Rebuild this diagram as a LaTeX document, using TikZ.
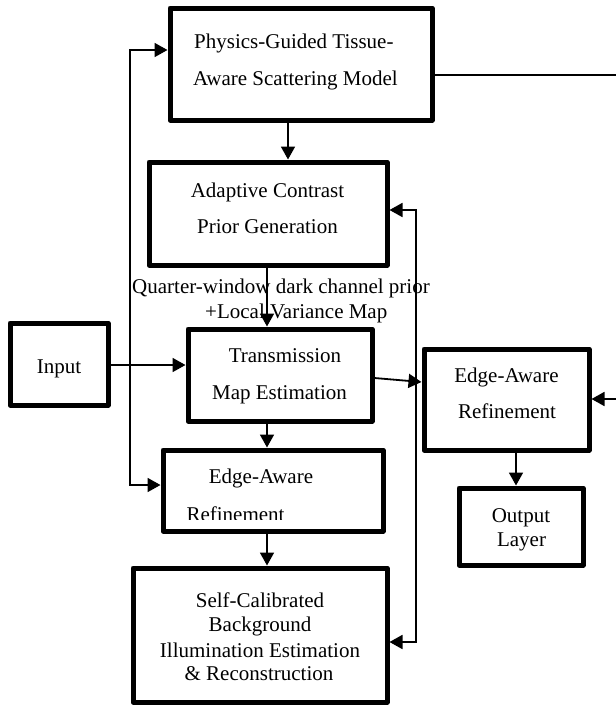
\documentclass[tikz,border=0pt]{standalone}
\usepackage{fontspec}
\setmainfont{Liberation Serif}
\usetikzlibrary{arrows.meta}
\begin{document}
\begin{tikzpicture}[x=1pt,y=-1pt,
  box/.style={draw,line width=5pt,line join=round,inner sep=0pt},
  txt/.style={inner sep=0pt,font=\fontsize{21}{25}\selectfont},
  conn/.style={line width=1.8pt},
  tip/.style={-{Triangle[length=13pt,width=14pt]}},
  tips/.style={{Triangle[length=13pt,width=14pt]}-{Triangle[length=13pt,width=14pt]}},
]
\useasboundingbox (0,0) rectangle (616,705);

% boxes
\node[box,minimum width=262,minimum height=112] (phys) at (301,64) {};
\node[box,minimum width=238,minimum height=103] (adapt) at (268,213.5) {};
\node[box,minimum width=98,minimum height=82] (input) at (59,364) {};
\node[box,minimum width=184,minimum height=92] (trans) at (280,375) {};
\node[box,minimum width=165,minimum height=101] (er) at (506.5,399.5) {};
\node[box,minimum width=124,minimum height=77] (out) at (521,526.5) {};
\node[box,minimum width=220,minimum height=81] (el) at (273,490.5) {};
\node[box,minimum width=254,minimum height=134] (self) at (260,635) {};

% texts
\node[txt,anchor=base west] (phys-1) at (194,48) {Physics-Guided Tissue-};
\node[txt,anchor=base west] (phys-2) at (193,85) {Aware Scattering Model};
\node[txt,anchor=base] (adapt-1) at (267.5,197) {Adaptive Contrast};
\node[txt,anchor=base] (adapt-2) at (267.5,233) {Prior Generation};
\node[txt,anchor=base west] (lab-1) at (132,293) {Quarter-window dark channel prior};
\node[txt,anchor=base west] (lab-2) at (205,318) {+Local Variance Map};
\node[txt,anchor=base] (input-1) at (59,373) {Input};
\node[txt,anchor=base] (trans-1) at (285,362) {Transmission};
\node[txt,anchor=base] (trans-2) at (279.5,399) {Map Estimation};
\node[txt,anchor=base] (er-1) at (506.5,382) {Edge-Aware};
\node[txt,anchor=base] (er-2) at (507,418) {Refinement};
\node[txt,anchor=base] (out-1) at (521,522) {Output};
\node[txt,anchor=base] (out-2) at (521.5,546) {Layer};
\node[txt,anchor=base] (el-1) at (261,483) {Edge-Aware};
\begin{scope}
  \clip (150,440) rectangle (400,519);
  \node[txt,anchor=base] (el-2) at (235.5,521) {Refinement};
\end{scope}
\node[txt,anchor=base] (self-1) at (260,607) {Self-Calibrated};
\node[txt,anchor=base] (self-2) at (260,631) {Background};
\node[txt,anchor=base] (self-3) at (260,657) {Illumination Estimation};
\node[txt,anchor=base] (self-4) at (259,680) {\& Reconstruction};

% connectors
\draw[conn,tip] (phys.south -| 288,0) -- (adapt.north -| 288,0);
\draw[conn,tip] (adapt.south -| 267,0) -- (trans.north -| 267,0);
\draw[conn,tip] (input.east |- 0,365) -- (trans.west |- 0,365);
\draw[conn,tip] (trans.east |- 0,378) -- (er.west |- 0,382);
\draw[conn,tip] (trans.south -| 267,0) -- (el.north -| 267,0);
\draw[conn,tip] (el.south -| 267,0) -- (self.north -| 267,0);
\draw[conn,tip] (er.south -| 516,0) -- (out.north -| 516,0);
\draw[conn,tips] (phys.west |- 0,50) -- (130,50) -- (130,485) -- (el.west |- 0,485);
\draw[conn,tips] (adapt.east |- 0,210) -- (416,210) -- (416,642) -- (self.east |- 0,642);
\draw[conn,tip] (phys.east |- 0,75) -- (624,75) -- (624,399) -- (er.east |- 0,399);
\end{tikzpicture}
\end{document}
